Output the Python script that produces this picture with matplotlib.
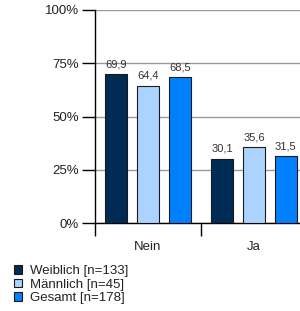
import numpy as np
import matplotlib.pyplot as plt
from matplotlib.patches import Patch

plt.rcParams['font.family'] = ['Liberation Sans', 'DejaVu Sans']

kategorien = ['Nein', 'Ja']
weiblich = [69.9, 30.1]
maennlich = [64.4, 35.6]
gesamt = [68.5, 31.5]
serien = ['Weiblich [n=133]', 'Männlich [n=45]', 'Gesamt [n=178]']
farben = ['#002b55', '#aad4ff', '#0080ff']

fig = plt.figure(figsize=(3.0, 3.11), dpi=100)
# axes goes a bit past the right edge, like the original
ax = fig.add_axes([95/300, 1 - 223/311, 212/300, 213/311])

x = np.arange(len(kategorien))
breite = 0.21
abstand = 0.30
for k, (werte, farbe) in enumerate(zip([weiblich, maennlich, gesamt], farben)):
    pos = x + (k - 1) * abstand
    ax.bar(pos, werte, breite, color=farbe, edgecolor='#1a1a1a', linewidth=0.8, zorder=3)
    for p, w in zip(pos, werte):
        ax.text(p, w + 2.3, ('%.1f' % w).replace('.', ','), ha='center', va='bottom',
                fontsize=8, color='#333333')

ax.set_xlim(-0.5, 1.5)
ax.set_ylim(0, 100)
ax.set_yticks([0, 25, 50, 75, 100])
ax.set_yticklabels(['0%', '25%', '50%', '75%', '100%'], fontsize=9.5, color='#222222')
ax.yaxis.grid(True, color='#999999', linewidth=1, zorder=0)
ax.tick_params(axis='y', length=9.5, width=1, pad=2)

ax.set_xticks([-0.5, 0.5, 1.5])
ax.set_xticklabels([])
ax.tick_params(axis='x', length=9.5, width=1)
for xi, name in zip(x, kategorien):
    ax.text(xi, -8.5, name, ha='center', va='top', fontsize=9.5, color='#222222')

for s in ['top', 'right']:
    ax.spines[s].set_visible(False)
ax.spines['left'].set_linewidth(1)
ax.spines['bottom'].set_linewidth(1)

handles = [Patch(facecolor=f, edgecolor='#1a1a1a', linewidth=0.8) for f in farben]
fig.legend(handles, serien, loc='upper left', bbox_to_anchor=(0.045, 1 - 265/311),
           frameon=False, fontsize=9.5, handlelength=0.65, handleheight=0.65,
           handletextpad=0.6, labelspacing=0.12, borderpad=0, borderaxespad=0,
           labelcolor='#222222')

fig.savefig('out.png', dpi=100)
